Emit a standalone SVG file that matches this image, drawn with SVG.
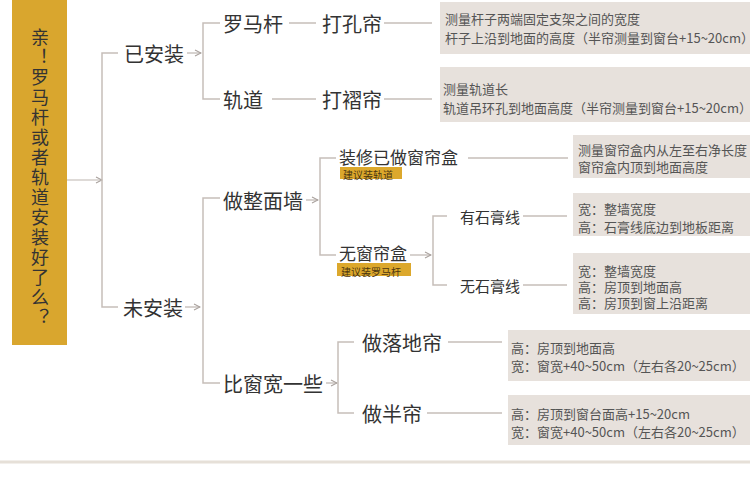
<svg xmlns="http://www.w3.org/2000/svg" width="750" height="480" viewBox="0 0 750 480">
<defs>
<marker id="arr" viewBox="0 0 8 8" refX="7" refY="4" markerWidth="8" markerHeight="8" markerUnits="userSpaceOnUse" orient="auto">
<path d="M1,1 L7,4 L1,7" fill="none" stroke="#a8a09c" stroke-width="1.1"/>
</marker>
<style>
.n{font-family:"Noto Sans CJK SC","Noto Sans",sans-serif;fill:#333;dominant-baseline:central}
.v{font-family:"Noto Sans CJK SC","Noto Sans",sans-serif;fill:#333;font-size:18px;writing-mode:vertical-rl;letter-spacing:2px}
.b{font-family:"Noto Sans CJK SC","Noto Sans",sans-serif;fill:#555;font-size:13px;dominant-baseline:central}
.tag{font-family:"Noto Sans CJK SC","Noto Sans",sans-serif;fill:#4a3510;font-size:10px;dominant-baseline:central}
.box{fill:#e7e1dc}
.ytag{fill:#dca82c}
.c{fill:none;stroke:#c6beb9;stroke-width:1.5}
.a{fill:none;stroke:#bdb5b0;stroke-width:1.2;marker-end:url(#arr)}
</style>
</defs>
<rect width="750" height="480" fill="#fff"/>
<line x1="0" y1="462" x2="750" y2="462" stroke="#e6e0d8" stroke-width="3"/>

<g id="connectors">
<line class="a" x1="67" y1="180" x2="102" y2="180"/>
<path class="c" d="M118,53 H102 V307 H118"/>
<line class="a" x1="187" y1="53" x2="201" y2="53"/>
<path class="c" d="M220,23 H203 V99 H220"/>
<line class="c" x1="289" y1="23" x2="316" y2="23"/>
<line class="c" x1="384" y1="23" x2="432" y2="23"/>
<line class="c" x1="272" y1="99" x2="316" y2="99"/>
<line class="c" x1="384" y1="99" x2="432" y2="99"/>
<line class="a" x1="185" y1="307" x2="200" y2="307"/>
<path class="c" d="M220,198 H203 V383 H220"/>
<line class="a" x1="306" y1="200" x2="318" y2="200"/>
<path class="c" d="M336,158 H320 V255 H336"/>
<line class="c" x1="468" y1="158" x2="568" y2="158"/>
<line class="a" x1="410" y1="255" x2="431" y2="255"/>
<path class="c" d="M447,216 H433 V285 H447"/>
<line class="c" x1="523" y1="216" x2="567" y2="216"/>
<line class="c" x1="523" y1="285" x2="567" y2="285"/>
<line class="a" x1="326" y1="383" x2="337" y2="383"/>
<path class="c" d="M354,342 H338 V413 H354"/>
<line class="c" x1="448" y1="342" x2="502" y2="342"/>
<line class="c" x1="427" y1="413" x2="502" y2="413"/>
</g>

<g id="root">
<rect x="12" y="0" width="55" height="345" fill="#d9a62e"/>
<text x="40" y="28" class="v">亲！罗马杆或者轨道安装好了么？</text>
</g>

<g id="n-yianzhuang"><text class="n" x="124" y="53" font-size="20">已安装</text></g>
<g id="n-weianzhuang"><text class="n" x="123" y="307" font-size="20">未安装</text></g>
<g id="n-luomagan"><text class="n" x="223" y="23" font-size="20">罗马杆</text></g>
<g id="n-guidao"><text class="n" x="223" y="99" font-size="20">轨道</text></g>
<g id="n-dakonglian"><text class="n" x="322" y="23" font-size="20">打孔帘</text></g>
<g id="n-dazhelian"><text class="n" x="322" y="99" font-size="20">打褶帘</text></g>
<g id="n-zuozhengmianqiang"><text class="n" x="223" y="200" font-size="20">做整面墙</text></g>
<g id="n-bichuangkuan"><text class="n" x="223" y="383" font-size="20">比窗宽一些</text></g>
<g id="n-yizuo">
<text class="n" x="339" y="156" font-size="17">装修已做窗帘盒</text>
<rect class="ytag" x="340" y="167" width="62" height="12"/>
<text class="tag" x="343" y="174">建议装轨道</text>
</g>
<g id="n-wuchuanglianhe">
<text class="n" x="339" y="252" font-size="17">无窗帘盒</text>
<rect class="ytag" x="337" y="263" width="74" height="13"/>
<text class="tag" x="341" y="271">建议装罗马杆</text>
</g>
<g id="n-youshigao"><text class="n" x="460" y="216" font-size="15">有石膏线</text></g>
<g id="n-wushigao"><text class="n" x="460" y="285" font-size="15">无石膏线</text></g>
<g id="n-zuoluodi"><text class="n" x="362" y="342" font-size="20">做落地帘</text></g>
<g id="n-zuoban"><text class="n" x="362" y="413" font-size="20">做半帘</text></g>

<g id="box1">
<rect class="box" x="440" y="2" width="310" height="52"/>
<text class="b"><tspan x="445" y="18">测量杆子两端固定支架之间的宽度</tspan><tspan x="445" y="37">杆子上沿到地面的高度（半帘测量到窗台+15~20cm）</tspan></text>
</g>
<g id="box2">
<rect class="box" x="440" y="67" width="310" height="55"/>
<text class="b"><tspan x="443" y="88">测量轨道长</tspan><tspan x="443" y="107">轨道吊环孔到地面高度（半帘测量到窗台+15~20cm）</tspan></text>
</g>
<g id="box3">
<rect class="box" x="573" y="135" width="177" height="43"/>
<text class="b"><tspan x="578" y="149">测量窗帘盒内从左至右净长度</tspan><tspan x="578" y="166">窗帘盒内顶到地面高度</tspan></text>
</g>
<g id="box4">
<rect class="box" x="573" y="193" width="177" height="43"/>
<text class="b"><tspan x="578" y="208">宽：整墙宽度</tspan><tspan x="578" y="226">高：石膏线底边到地板距离</tspan></text>
</g>
<g id="box5">
<rect class="box" x="573" y="253" width="177" height="61"/>
<text class="b"><tspan x="578" y="270">宽：整墙宽度</tspan><tspan x="578" y="286">高：房顶到地面高</tspan><tspan x="578" y="302">高：房顶到窗上沿距离</tspan></text>
</g>
<g id="box6">
<rect class="box" x="508" y="330" width="242" height="51"/>
<text class="b"><tspan x="511" y="347">高：房顶到地面高</tspan><tspan x="511" y="365">宽：窗宽+40~50cm（左右各20~25cm）</tspan></text>
</g>
<g id="box7">
<rect class="box" x="508" y="395" width="242" height="50"/>
<text class="b"><tspan x="511" y="413">高：房顶到窗台面高+15~20cm</tspan><tspan x="511" y="431">宽：窗宽+40~50cm（左右各20~25cm）</tspan></text>
</g>
</svg>
